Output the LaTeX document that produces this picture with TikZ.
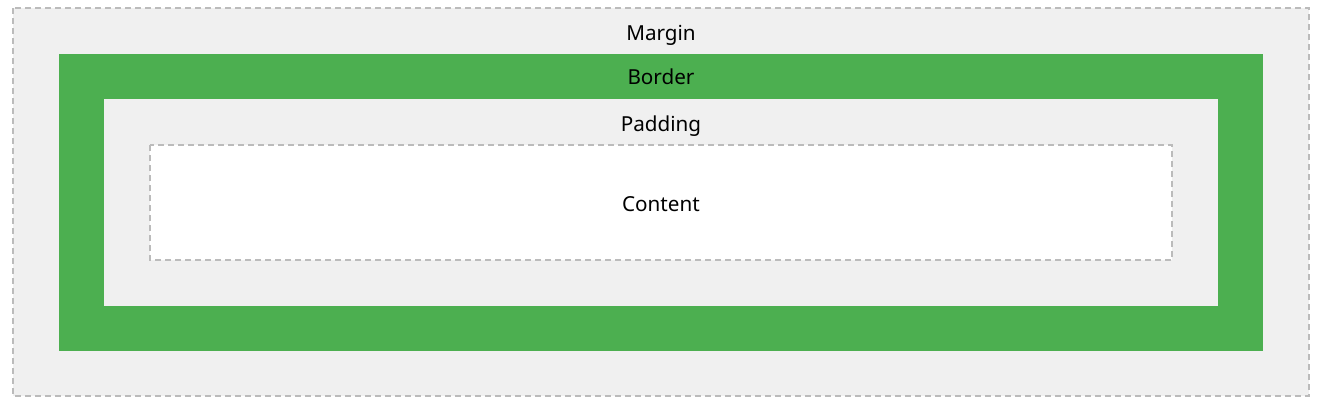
\documentclass[tikz,border=0pt]{standalone}
\usepackage{fontspec}
\setmainfont{Noto Sans}
\definecolor{boxgreen}{HTML}{4CAF50}
\definecolor{boxgray}{HTML}{F0F0F0}
\definecolor{dashgray}{HTML}{BBBBBB}

\begin{document}
\begin{tikzpicture}[x=0.75pt, y=-0.75pt,
    outline/.style ={draw=dashgray, line width=1.5pt, dash pattern=on 4.5pt off 3pt},
    layer/.style ={anchor=base, font=\fontsize{15.5pt}{18pt}\selectfont, text=black}]
   \useasboundingbox (0,0) rectangle (1322,419);
   \fill[white] (0,0) rectangle (1322,419);

   % margin, border, padding, content
   \filldraw[outline, fill=boxgray] (13,8) rectangle (1309,396);
   \fill[boxgreen] (59,54) rectangle (1263,351);
   \fill[boxgray] (104,99) rectangle (1218,306);
   \filldraw[outline, fill=white] (150,145) rectangle (1172,260);

   \node[layer] (margin)  at (661,40)  {Margin};
   \node[layer] (border)  at (661,84)  {Border};
   \node[layer] (padding) at (661,131) {Padding};
   \node[layer] (content) at (661,211) {Content};
 \end{tikzpicture}
\end{document}
